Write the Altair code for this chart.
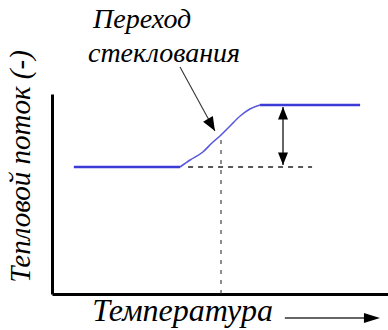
import altair as alt
import pandas as pd

# Heat-flow curve: flat baseline, glass-transition step, flat upper level
low_T = [6.5, 38.1]
low_Q = [63.5, 63.5]
high_T = [61.9, 91.7]
high_Q = [94.5, 94.5]
step_T = [38.1, 41.1, 44.9, 47.6, 50.3, 53.0, 56.0, 58.9, 61.9]
step_Q = [63.5, 67.0, 71.0, 75.5, 79.5, 84.0, 89.0, 92.5, 94.5]

# Transition midpoint and extrapolated baseline
tg_T = 50.3
tg_Q = 79.5
ext_T = [40.5, 77.4]
ext_Q = 63.5

# Step-height double arrow
dq_T = 68.75
dq_Q = [64.5, 93.5]

# Label pointer arrow (tail -> tip)
ptr_T = [38.1, 48.5]
ptr_Q = [113.5, 81.5]

# Label lines
label_text = ["Переход", "стеклования"]
label_T = [12.2, 10.7]
label_Q = [133.0, 116.0]

# Arrow after the temperature axis title
tarrow_T = [69.3, 97.6]
tarrow_Q = -12.0

FONT = "Liberation Serif"
sx = alt.Scale(domain=[0, 100], nice=False, zero=False)
sy = alt.Scale(domain=[0, 100], nice=False, zero=False)

x_axis = alt.Axis(
    title="Температура", domain=True, domainColor="black", domainWidth=3,
    ticks=False, labels=False, grid=False,
    titleFont=FONT, titleFontStyle="italic", titleFontWeight="normal",
    titleFontSize=32, titleColor="black",
    titleX=130, titleY=26, titleAlign="center", titleBaseline="alphabetic",
)
y_axis = alt.Axis(
    title="Тепловой поток (-)", domain=True, domainColor="black", domainWidth=3,
    ticks=False, labels=False, grid=False,
    titleFont=FONT, titleFontStyle="italic", titleFontWeight="normal",
    titleFontSize=29, titleColor="black", titleAngle=270,
    titleX=-23, titleY=72, titleAlign="center", titleBaseline="alphabetic",
)

X = alt.X("T:Q", scale=sx, axis=x_axis)
Y = alt.Y("Q:Q", scale=sy, axis=y_axis)

BLUE = "#3b3bd6"

flat = pd.DataFrame({
    "T": low_T + high_T,
    "Q": low_Q + high_Q,
    "seg": ["low", "low", "high", "high"],
})
flat_layer = alt.Chart(flat).mark_line(color=BLUE, strokeWidth=2.5).encode(
    x=X, y=Y, detail="seg:N"
)

step = pd.DataFrame({"T": step_T, "Q": step_Q})
step_layer = alt.Chart(step).mark_line(
    color=BLUE, strokeWidth=1.6, opacity=0.85, interpolate="monotone"
).encode(x=X, y=Y)

hdash = pd.DataFrame({"T": [ext_T[0]], "T2": [ext_T[1]], "Q": [ext_Q]})
hdash_layer = alt.Chart(hdash).mark_rule(
    color="#222", strokeWidth=1.6, strokeDash=[5, 5]
).encode(x=X, x2="T2:Q", y=Y)

vdash = pd.DataFrame({"T": [tg_T], "Q": [0.0], "Q2": [tg_Q]})
vdash_layer = alt.Chart(vdash).mark_rule(
    color="#333", strokeWidth=1.1, strokeDash=[4, 6]
).encode(x=X, y=Y, y2="Q2:Q")

dq = pd.DataFrame({"T": [dq_T], "Q": [dq_Q[0]], "Q2": [dq_Q[1]]})
dq_layer = alt.Chart(dq).mark_rule(color="#333", strokeWidth=1.5).encode(
    x=X, y=Y, y2="Q2:Q"
)

UP = "M0,0L0.4,1L-0.4,1Z"
DOWN = "M0,0L0.4,-1L-0.4,-1Z"
RIGHT = "M0,0L-1,0.32L-1,-0.32Z"

dq_up = alt.Chart(pd.DataFrame({"T": [dq_T], "Q": [dq_Q[1]]})).mark_point(
    shape=UP, size=625, filled=True, color="black", opacity=1
).encode(x=X, y=Y)
dq_down = alt.Chart(pd.DataFrame({"T": [dq_T], "Q": [dq_Q[0]]})).mark_point(
    shape=DOWN, size=625, filled=True, color="black", opacity=1
).encode(x=X, y=Y)

ptr = pd.DataFrame({"T": [ptr_T[0]], "T2": [ptr_T[1]], "Q": [ptr_Q[0]], "Q2": [ptr_Q[1]]})
ptr_layer = alt.Chart(ptr).mark_rule(color="#333", strokeWidth=1.1).encode(
    x=X, x2="T2:Q", y=Y, y2="Q2:Q"
)
ptr_head = alt.Chart(pd.DataFrame({"T": [ptr_T[1]], "Q": [ptr_Q[1]]})).mark_point(
    shape=DOWN, size=784, filled=True, color="black", opacity=1, angle=330
).encode(x=X, y=Y)

labels = pd.DataFrame({"T": label_T, "Q": label_Q, "text": label_text})
label_layer = alt.Chart(labels).mark_text(
    font=FONT, fontStyle="italic", fontSize=28, align="left",
    baseline="alphabetic", color="black"
).encode(x=X, y=Y, text="text:N")

tarrow = pd.DataFrame({"T": [tarrow_T[0]], "T2": [tarrow_T[1] - 3], "Q": [tarrow_Q]})
tarrow_layer = alt.Chart(tarrow).mark_rule(color="#333", strokeWidth=1.4).encode(
    x=X, x2="T2:Q", y=Y
)
tarrow_head = alt.Chart(pd.DataFrame({"T": [tarrow_T[1]], "Q": [tarrow_Q]})).mark_point(
    shape=RIGHT, size=1024, filled=True, color="black", opacity=1
).encode(x=X, y=Y)

chart = alt.layer(
    vdash_layer, hdash_layer, flat_layer, step_layer, dq_layer, dq_up, dq_down,
    ptr_layer, ptr_head, label_layer, tarrow_layer, tarrow_head,
).properties(
    width=336, height=200,
    autosize=alt.AutoSizeParams(type="none"),
    padding={"left": 52, "top": 94, "right": 0, "bottom": 36},
    background="white",
).configure_view(strokeWidth=0)

chart.save("out.html", embed_options={"renderer": "svg", "actions": False})
